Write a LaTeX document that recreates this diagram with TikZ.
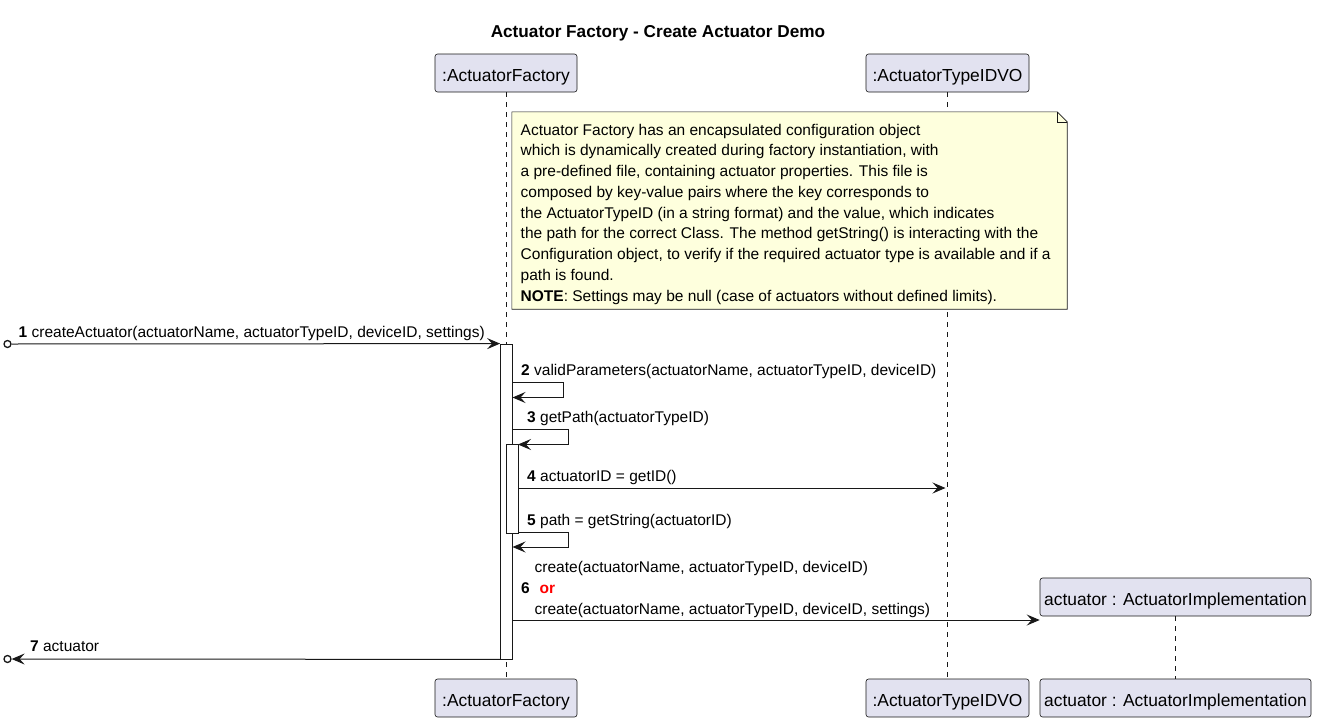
\documentclass[tikz,border=0pt]{standalone}
\usepackage{fontspec}
\setmainfont{Liberation Sans}
\usetikzlibrary{arrows.meta,calc}
\definecolor{partfill}{HTML}{E2E2F0}
\definecolor{partline}{HTML}{181818}
\definecolor{notefill}{HTML}{FEFFDD}
\definecolor{orred}{HTML}{FF0000}
\begin{document}
\begin{tikzpicture}[x=1pt,y=-1pt,
  part/.style={draw=partline, fill=partfill, line width=0.6pt, rounded corners=2.5pt,
    minimum height=38pt, inner sep=0pt, text height=17.4pt, text depth=0pt,
    font=\fontsize{17.4}{19}\selectfont},
  lifeline/.style={draw=partline, line width=0.6pt, dash pattern=on 5pt off 5pt},
  actbox/.style={draw=partline, fill=white, line width=0.8pt, minimum width=12pt, inner sep=0pt},
  msgarrow/.style={draw=partline, line width=1pt, -{Stealth[length=13pt,width=11pt,inset=5pt]}},
  msgtext/.style={anchor=base west, inner sep=0pt, font=\fontsize{15.5}{18}\selectfont},
  notetext/.style={anchor=base west, inner sep=0pt, font=\fontsize{15.5}{18}\selectfont},
  endcircle/.style={circle, draw=partline, fill=white, line width=1.3pt, minimum size=7pt, inner sep=0pt},
]
\useasboundingbox (0,0) rectangle (1317,723);

% title
\node[anchor=base, inner sep=0pt, font=\fontsize{17.2}{19}\selectfont\bfseries] (title) at (658,37.3) {Actuator Factory - Create Actuator Demo};

% participants
\node[part, minimum width=142pt] (afTop) at (506,73) {:ActuatorFactory};
\node[part, minimum width=163pt] (voTop) at (947.5,73) {:ActuatorTypeIDVO};
\node[part, minimum width=142pt] (afBot) at (506,698) {:ActuatorFactory};
\node[part, minimum width=163pt] (voBot) at (947.5,698) {:ActuatorTypeIDVO};
\node[part, minimum width=271pt] (impBot) at (1175.5,698) {actuator : ActuatorImplementation};

% lifelines
\draw[lifeline] (afTop.south) -- (afBot.north);
\draw[lifeline] (voTop.south) -- (voBot.north);

% created participant
\node[part, minimum width=271pt] (impTop) at (1175.5,597) {actuator : ActuatorImplementation};
\draw[lifeline] (impTop.south) -- (impBot.north);

% note
\node[minimum width=555pt, minimum height=197pt, inner sep=0pt] (note) at (789.5,210.5) {};
\draw[draw=partline, fill=notefill, line width=0.6pt]
  (note.north west) -- ($(note.north east)+(-10,0)$) -- ($(note.north east)+(0,10)$)
  -- (note.south east) -- (note.south west) -- cycle;
\draw[draw=partline, line width=0.6pt]
  ($(note.north east)+(-10,0)$) -- ($(note.north east)+(-10,10)$) -- ($(note.north east)+(0,10)$);
\node[notetext] (n1) at (520.5,135) {Actuator Factory has an encapsulated configuration object};
\node[notetext] (n2) at (520.5,155.75) {which is dynamically created during factory instantiation, with};
\node[notetext] (n3) at (520.5,176.5) {a pre-defined file, containing actuator properties. This file is};
\node[notetext] (n4) at (520.5,197.25) {composed by key-value pairs where the key corresponds to};
\node[notetext] (n5) at (520.5,218) {the ActuatorTypeID (in a string format) and the value, which indicates};
\node[notetext] (n6) at (520.5,238.75) {the path for the correct Class. The method getString() is interacting with the};
\node[notetext] (n7) at (520.5,259.5) {Configuration object, to verify if the required actuator type is available and if a};
\node[notetext] (n8) at (520.5,280.25) {path is found.};
\node[notetext] (n9) at (520.5,301) {\textbf{NOTE}: Settings may be null (case of actuators without defined limits).};

% activations
\node[actbox, minimum height=315pt] (act1) at (506.5,501.5) {};
\node[actbox, minimum height=89pt] (act2) at (512,488.5) {};

% message 1
\node[endcircle] (c1) at (7.5,344) {};
\draw[msgarrow] (c1.east) -- (act1.north west);
\node[msgtext] (l1) at (18.5,337) {\textbf{1} createActuator(actuatorName, actuatorTypeID, deviceID, settings)};

% message 2
\coordinate (m2a) at (512.5,382);
\coordinate (m2b) at (563,382);
\coordinate (m2c) at (563,397.5);
\coordinate (m2d) at (512.5,397.5);
\draw[msgarrow] (m2a) -- (m2b) -- (m2c) -- (m2d);
\node[msgtext] (l2) at (521,375) {\textbf{2} validParameters(actuatorName, actuatorTypeID, deviceID)};

% message 3
\coordinate (m3a) at (512.5,429);
\coordinate (m3b) at (568.5,429);
\coordinate (m3c) at (568.5,444.5);
\coordinate (m3d) at (518,444.5);
\draw[msgarrow] (m3a) -- (m3b) -- (m3c) -- (m3d);
\node[msgtext] (l3) at (527,422) {\textbf{3} getPath(actuatorTypeID)};

% message 4
\coordinate (m4a) at (518,488);
\coordinate (m4b) at (945.5,488);
\draw[msgarrow] (m4a) -- (m4b);
\node[msgtext] (l4) at (527,481) {\textbf{4} actuatorID = getID()};

% message 5
\coordinate (m5a) at (518,532.5);
\coordinate (m5b) at (568.5,532.5);
\coordinate (m5c) at (568.5,547);
\coordinate (m5d) at (512.5,547);
\draw[msgarrow] (m5a) -- (m5b) -- (m5c) -- (m5d);
\node[msgtext] (l5) at (527,525) {\textbf{5} path = getString(actuatorID)};

% message 6
\coordinate (m6a) at (512.5,620);
\draw[msgarrow] (m6a) -- (impTop.west |- m6a);
\node[msgtext] (l6a) at (534.5,572.5) {create(actuatorName, actuatorTypeID, deviceID)};
\node[msgtext] (l6n) at (521,593) {\textbf{6}};
\node[msgtext, text=orred] (l6or) at (539.5,593) {\textbf{or}};
\node[msgtext] (l6b) at (534.5,614) {create(actuatorName, actuatorTypeID, deviceID, settings)};

% message 7
\node[endcircle] (c7) at (7.5,659) {};
\draw[msgarrow] (act1.south west) -- (c7.east);
\node[msgtext] (l7) at (30,651) {\textbf{7} actuator};
\end{tikzpicture}
\end{document}
